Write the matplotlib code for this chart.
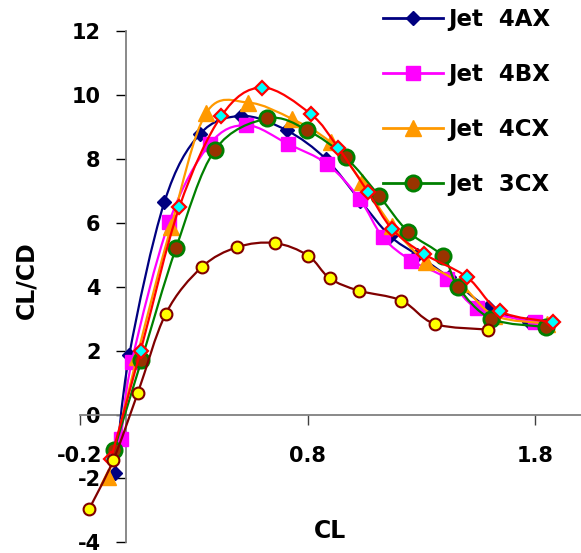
import numpy as np
import matplotlib
matplotlib.use('Agg')
from matplotlib import pyplot as plt
from matplotlib.path import Path
from matplotlib.patches import PathPatch
from matplotlib.lines import Line2D

plt.rcParams['font.family'] = ['DejaVu Sans']
plt.rcParams['font.weight'] = 'bold'
plt.rcParams['axes.unicode_minus'] = False

# values (CL, CL/CD)
cl_4ax = [-0.046, 0.016, 0.17, 0.326, 0.509, 0.707, 0.88, 1.03, 1.16, 1.28, 1.42, 1.59, 1.77]
ld_4ax = [-1.84, 1.85, 6.64, 8.78, 9.35, 8.9, 8.0, 6.7, 5.6, 5.0, 4.3, 3.36, 2.89]

cl_4bx = [-0.02, 0.027, 0.192, 0.37, 0.531, 0.714, 0.886, 1.028, 1.13, 1.255, 1.413, 1.544, 1.796]
ld_4bx = [-0.75, 1.64, 6.04, 8.47, 9.06, 8.47, 7.84, 6.75, 5.55, 4.82, 4.25, 3.33, 2.89]

cl_4cx = [-0.076, 0.05, 0.199, 0.353, 0.538, 0.733, 0.9, 1.04, 1.17, 1.32, 1.47, 1.62, 1.85]
ld_4cx = [-1.95, 1.8, 5.86, 9.43, 9.77, 9.25, 8.52, 7.27, 5.9, 4.77, 4.1, 3.1, 2.85]

cl_3cx = [-0.051, 0.07, 0.221, 0.392, 0.623, 0.799, 0.967, 1.113, 1.24, 1.394, 1.46, 1.606, 1.847]
ld_3cx = [-1.12, 1.7, 5.2, 8.28, 9.27, 8.9, 8.05, 6.85, 5.73, 4.95, 3.99, 3.0, 2.74]

cl_red = [-0.064, 0.066, 0.236, 0.421, 0.6, 0.813, 0.933, 1.065, 1.17, 1.31, 1.5, 1.646, 1.876]
ld_red = [-1.38, 1.99, 6.49, 9.35, 10.24, 9.41, 8.36, 6.96, 5.81, 5.03, 4.3, 3.23, 2.89]

cl_yel = [-0.16, -0.054, 0.053, 0.177, 0.334, 0.49, 0.655, 0.801, 0.896, 1.024, 1.211, 1.357, 1.591]
ld_yel = [-2.96, -1.43, 0.66, 3.16, 4.61, 5.24, 5.37, 4.98, 4.27, 3.88, 3.57, 2.84, 2.66]

labels = ['Jet  4AX', 'Jet  4BX', 'Jet  4CX', 'Jet  3CX']
xticks = [-0.2, 0.8, 1.8]
yticks = [-4, -2, 0, 2, 4, 6, 8, 10, 12]


def smooth_path(x, y):
    # bezier segments, catmull-rom style control points (like excel smoothed lines)
    p = np.column_stack([x, y])
    ext = np.vstack([p[0], p, p[-1]])
    verts = [p[0]]
    codes = [Path.MOVETO]
    for i in range(1, len(ext) - 2):
        p0, p1, p2, p3 = ext[i - 1], ext[i], ext[i + 1], ext[i + 2]
        verts += [p1 + (p2 - p0) / 6, p2 - (p3 - p1) / 6, p2]
        codes += [Path.CURVE4] * 3
    return Path(verts, codes)


fig = plt.figure(figsize=(5.81, 5.53), dpi=100)
ax = fig.add_axes([80 / 581, 10.7 / 553, 501 / 581, 511 / 553])

series = [
    (cl_4ax, ld_4ax, '#000080', dict(marker='D', ms=7, mfc='#000080', mec='#000080', mew=1)),
    (cl_4bx, ld_4bx, '#FF00FF', dict(marker='s', ms=10, mfc='#FF00FF', mec='#FF00FF', mew=1)),
    (cl_4cx, ld_4cx, '#FF9900', dict(marker='^', ms=11, mfc='#FF9900', mec='#FF9900', mew=1)),
    (cl_3cx, ld_3cx, '#008000', dict(marker='o', ms=11, mfc='#993300', mec='#008000', mew=2)),
    (cl_red, ld_red, '#FF0000', dict(marker='D', ms=7.5, mfc='#00FFFF', mec='#FF0000', mew=1.6)),
    (cl_yel, ld_yel, '#800000', dict(marker='o', ms=8.5, mfc='#FFFF00', mec='#800000', mew=1.5)),
]

handles = []
for k, (xs, ys, col, mk) in enumerate(series):
    z = 3 + k
    ax.add_patch(PathPatch(smooth_path(xs, ys), fill=False, edgecolor=col, lw=1.6,
                           transform=ax.transData, zorder=z))
    ax.plot(xs, ys, linestyle='none', zorder=z, clip_on=False, **mk)
    handles.append(Line2D([], [], color=col, lw=2, **mk))

ax.set_xlim(-0.2, 2.0)
ax.set_ylim(-4, 12)
ax.spines['top'].set_visible(False)
ax.spines['right'].set_visible(False)
ax.spines['left'].set_position(('data', 0))
ax.spines['bottom'].set_position(('data', 0))
for s in ['left', 'bottom']:
    ax.spines[s].set_color('#808080')
    ax.spines[s].set_linewidth(1.3)

ax.set_xticks(xticks)
ax.set_xticklabels(['-0.2', '0.8', '1.8'])
ax.set_yticks(yticks)
ax.tick_params(axis='y', direction='out', length=7, width=1, color='#000000',
               labelsize=15, pad=11)
ax.tick_params(axis='x', direction='out', length=7, width=1, color='#404040',
               labelsize=15, pad=16)
for t in ax.get_xticklabels() + ax.get_yticklabels():
    t.set_fontweight('bold')

fig.text(26 / 581, 1 - 280 / 553, 'CL/CD', rotation=90, ha='center', va='center',
         fontsize=17, fontweight='bold')
fig.text(330 / 581, 1 - 531 / 553, 'CL', ha='center', va='center',
         fontsize=17, fontweight='bold')

fig.legend(handles[:4], labels, loc='upper left', bbox_to_anchor=(383 / 581, 1 - 8 / 553),
           frameon=False, prop={'size': 16.5, 'weight': 'bold'}, handlelength=2.6,
           handletextpad=0.25, labelspacing=1.39, borderpad=0, borderaxespad=0)

fig.savefig('out.png', dpi=100)
